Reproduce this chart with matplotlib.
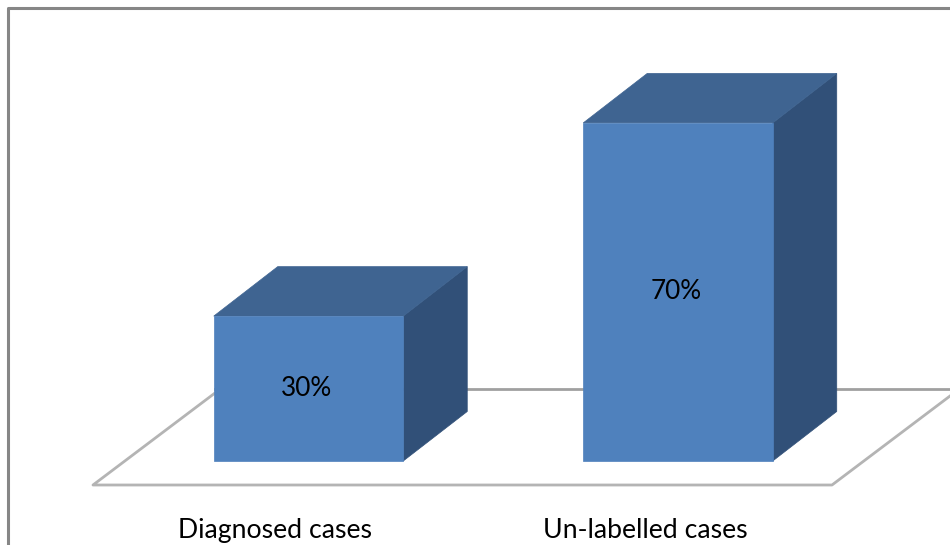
import matplotlib

matplotlib.use("Agg")
from matplotlib import pyplot as plt
from matplotlib.patches import Polygon

categories = ["Diagnosed cases", "Un-labelled cases"]
values = [30, 70]
value_labels = ["30%", "70%"]

# Axis scale: one category step and one percent, in pixels
px_per_cat = 369.5
px_per_pct = 4.83
width_px, height_px = 950, 545
first_bar_px = 308.5
base_px = 461

bar_width = 189.5 / px_per_cat
depth_x = 64 / px_per_cat
depth_y = 49.5 / px_per_pct

front_color = "#4f81bd"
top_color = "#3f6491"
side_color = "#315078"
floor_color = "#b4b4b4"


def draw_bar(ax, x, value):
    left = x - bar_width / 2
    right = x + bar_width / 2
    front = [(left, 0), (right, 0), (right, value), (left, value)]
    top = [(left, value), (right, value), (right + depth_x, value + depth_y), (left + depth_x, value + depth_y)]
    side = [(right, 0), (right + depth_x, depth_y), (right + depth_x, value + depth_y), (right, value)]
    ax.add_patch(Polygon(side, facecolor=side_color, edgecolor=side_color, lw=0.5, zorder=3))
    ax.add_patch(Polygon(top, facecolor=top_color, edgecolor=top_color, lw=0.5, zorder=3))
    ax.add_patch(Polygon(front, facecolor=front_color, edgecolor=front_color, lw=0.5, zorder=4))


def main():
    plt.rcParams["font.family"] = ["Lato", "DejaVu Sans"]
    fig = plt.figure(figsize=(width_px / 100, height_px / 100), dpi=100)
    ax = fig.add_axes([0, 0, 1, 1])
    ax.set_xlim(-first_bar_px / px_per_cat, (width_px - first_bar_px) / px_per_cat)
    ax.set_ylim(-(height_px - base_px) / px_per_pct, base_px / px_per_pct)
    ax.axis("off")

    # Floor of the 3D plot
    floor_left = -215.5 / px_per_cat
    floor_right = 523.5 / px_per_cat
    floor_front = -24 / px_per_pct
    floor_back = 72 / px_per_pct
    floor_dx = 122 / px_per_cat
    ax.plot(
        [floor_left + floor_dx, floor_left, floor_right, floor_right + floor_dx],
        [floor_back - 4 / px_per_pct, floor_front, floor_front, floor_back - 4 / px_per_pct],
        color=floor_color,
        lw=2,
        zorder=1,
    )
    ax.plot([floor_left + floor_dx, ax.get_xlim()[1]], [floor_back, floor_back], color="#a0a0a0", lw=2, zorder=1)

    for i, value in enumerate(values):
        draw_bar(ax, i, value)
        ax.text(i - 2 / px_per_cat, value / 2, value_labels[i], ha="center", va="center", fontsize=18.8, color="black", zorder=5)
        ax.text(i - 33 / px_per_cat, -69.5 / px_per_pct, categories[i], ha="center", va="center", fontsize=19.2, color="black", zorder=5)

    # Outer chart frame, open at the right and bottom
    ax.plot([8 / width_px, 8 / width_px, 1], [0, 1 - 8 / height_px, 1 - 8 / height_px], transform=ax.transAxes, color="#868686", lw=2.2, zorder=6)

    fig.savefig("out.png", dpi=100, facecolor="white")


if __name__ == "__main__":
    main()
